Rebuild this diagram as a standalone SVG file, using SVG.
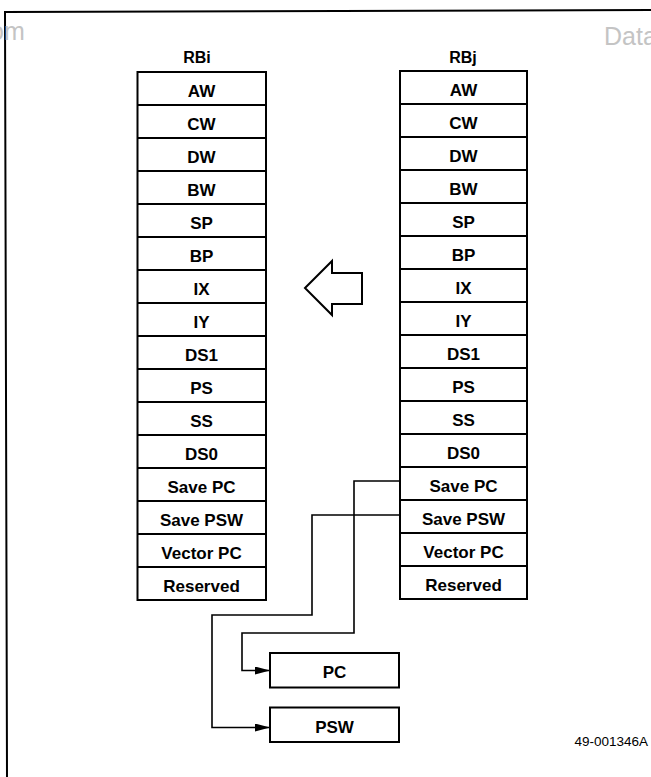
<svg xmlns="http://www.w3.org/2000/svg" width="651" height="777" viewBox="0 0 651 777">
<style>
.box{fill:#fff;stroke:#000;stroke-width:2}
.row{stroke:#000;stroke-width:1.8}
.t{font-family:"Liberation Sans",Arial,sans-serif;font-weight:bold;font-size:17px;text-anchor:middle;fill:#000}
.h{font-size:16px}
.wm{font-family:"Liberation Sans",Arial,sans-serif;font-size:25px;fill:#c4c4c4}
.c{fill:none;stroke:#000;stroke-width:1.6}
</style>
<defs>
<marker id="ah" viewBox="0 0 15 8" refX="15" refY="4" markerWidth="15" markerHeight="8" markerUnits="userSpaceOnUse" orient="auto">
<path d="M0,0 L15,4 L0,8 Z" fill="#000"/>
</marker>
</defs>
<rect width="651" height="777" fill="#fff"/>
<g id="frame">
<polyline points="7,777 5,12 651,10" fill="none" stroke="#000" stroke-width="2"/>
<text class="wm" x="-10" y="40">om</text>
<text class="wm" x="604" y="45">Data</text>
</g>
<g id="RBi">
<text class="t h" x="197" y="63">RBi</text>
<rect class="box" x="137.5" y="72" width="128.5" height="528"/>
<g class="row">
<line x1="137.5" y1="105" x2="266" y2="105"/><line x1="137.5" y1="138" x2="266" y2="138"/>
<line x1="137.5" y1="171" x2="266" y2="171"/><line x1="137.5" y1="204" x2="266" y2="204"/>
<line x1="137.5" y1="237" x2="266" y2="237"/><line x1="137.5" y1="270" x2="266" y2="270"/>
<line x1="137.5" y1="303" x2="266" y2="303"/><line x1="137.5" y1="336" x2="266" y2="336"/>
<line x1="137.5" y1="369" x2="266" y2="369"/><line x1="137.5" y1="402" x2="266" y2="402"/>
<line x1="137.5" y1="435" x2="266" y2="435"/><line x1="137.5" y1="468" x2="266" y2="468"/>
<line x1="137.5" y1="501" x2="266" y2="501"/><line x1="137.5" y1="534" x2="266" y2="534"/>
<line x1="137.5" y1="567" x2="266" y2="567"/>
</g>
<text class="t" x="201.5" y="96.5">AW</text>
<text class="t" x="201.5" y="129.5">CW</text>
<text class="t" x="201.5" y="162.5">DW</text>
<text class="t" x="201.5" y="195.5">BW</text>
<text class="t" x="201.5" y="228.5">SP</text>
<text class="t" x="201.5" y="261.5">BP</text>
<text class="t" x="201.5" y="294.5">IX</text>
<text class="t" x="201.5" y="327.5">IY</text>
<text class="t" x="201.5" y="360.5">DS1</text>
<text class="t" x="201.5" y="393.5">PS</text>
<text class="t" x="201.5" y="426.5">SS</text>
<text class="t" x="201.5" y="459.5">DS0</text>
<text class="t" x="201.5" y="492.5">Save PC</text>
<text class="t" x="201.5" y="525.5">Save PSW</text>
<text class="t" x="201.5" y="558.5">Vector PC</text>
<text class="t" x="201.5" y="591.5">Reserved</text>
</g>
<g id="RBj">
<text class="t h" x="463" y="63">RBj</text>
<rect class="box" x="400" y="71" width="127" height="528"/>
<g class="row">
<line x1="400" y1="104" x2="527" y2="104"/><line x1="400" y1="137" x2="527" y2="137"/>
<line x1="400" y1="170" x2="527" y2="170"/><line x1="400" y1="203" x2="527" y2="203"/>
<line x1="400" y1="236" x2="527" y2="236"/><line x1="400" y1="269" x2="527" y2="269"/>
<line x1="400" y1="302" x2="527" y2="302"/><line x1="400" y1="335" x2="527" y2="335"/>
<line x1="400" y1="368" x2="527" y2="368"/><line x1="400" y1="401" x2="527" y2="401"/>
<line x1="400" y1="434" x2="527" y2="434"/><line x1="400" y1="467" x2="527" y2="467"/>
<line x1="400" y1="500" x2="527" y2="500"/><line x1="400" y1="533" x2="527" y2="533"/>
<line x1="400" y1="566" x2="527" y2="566"/>
</g>
<text class="t" x="463.5" y="95.5">AW</text>
<text class="t" x="463.5" y="128.5">CW</text>
<text class="t" x="463.5" y="161.5">DW</text>
<text class="t" x="463.5" y="194.5">BW</text>
<text class="t" x="463.5" y="227.5">SP</text>
<text class="t" x="463.5" y="260.5">BP</text>
<text class="t" x="463.5" y="293.5">IX</text>
<text class="t" x="463.5" y="326.5">IY</text>
<text class="t" x="463.5" y="359.5">DS1</text>
<text class="t" x="463.5" y="392.5">PS</text>
<text class="t" x="463.5" y="425.5">SS</text>
<text class="t" x="463.5" y="458.5">DS0</text>
<text class="t" x="463.5" y="491.5">Save PC</text>
<text class="t" x="463.5" y="524.5">Save PSW</text>
<text class="t" x="463.5" y="557.5">Vector PC</text>
<text class="t" x="463.5" y="590.5">Reserved</text>
</g>
<g id="arrow">
<polygon points="305,288 332,261 332,273 362,273 362,304 332,304 332,315" fill="#fff" stroke="#000" stroke-width="2" stroke-linejoin="miter"/>
</g>
<g id="PC">
<rect class="box" x="270" y="653" width="129" height="34.5"/>
<text class="t" x="334.5" y="678" font-size="17.5">PC</text>
</g>
<g id="PSW">
<rect class="box" x="270" y="707.5" width="129" height="34.5"/>
<text class="t" x="334.5" y="732.5" font-size="17.5">PSW</text>
</g>
<g id="connectors">
<polyline class="c" points="400,481 354,481 354,633 242,633 242,670.5 270,670.5" marker-end="url(#ah)"/>
<polyline class="c" points="400,515 312,515 312,615 212,615 212,727.5 270,727.5" marker-end="url(#ah)"/>
</g>
<text x="648" y="746" font-family="'Liberation Sans',Arial,sans-serif" font-size="13.5" text-anchor="end" fill="#000">49-001346A</text>
</svg>
